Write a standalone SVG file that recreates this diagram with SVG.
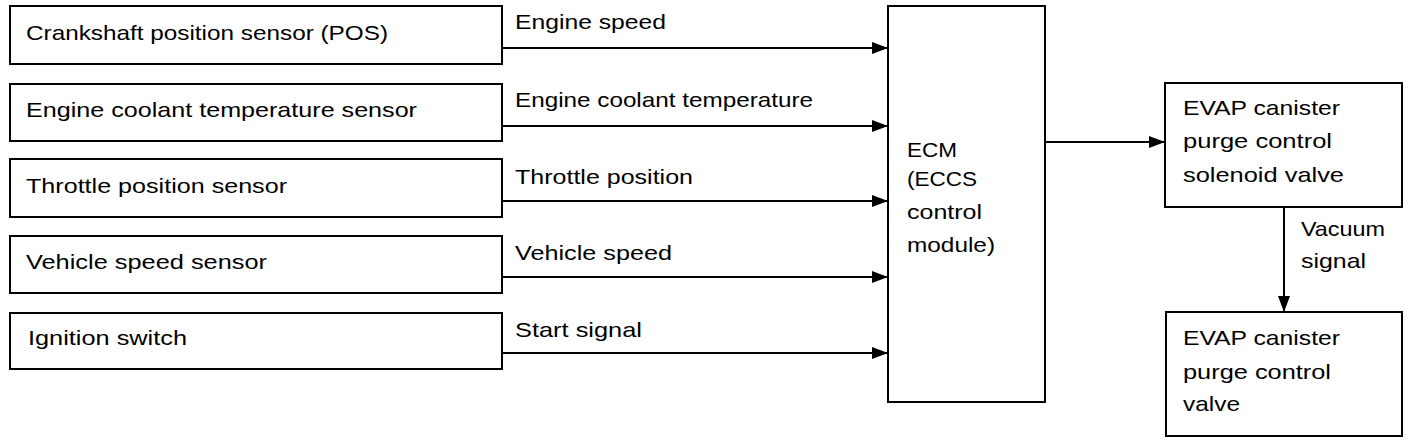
<svg xmlns="http://www.w3.org/2000/svg" width="1424" height="444" viewBox="0 0 1424 444">
<style>
.box{fill:#fff;stroke:#000;stroke-width:2}
.t{font-family:"Liberation Sans",Arial,Helvetica,sans-serif;font-size:21px;fill:#000}
.c{fill:none;stroke:#000;stroke-width:2}
</style>
<defs>
<marker id="ah" markerUnits="userSpaceOnUse" markerWidth="16" markerHeight="12" refX="16" refY="6" orient="auto">
<path d="M0,0 L16,6 L0,12 z" fill="#000"/>
</marker>
</defs>
<rect width="1424" height="444" fill="#fff"/>
<g id="pos">
<rect class="box" x="10" y="6" width="492" height="58"/>
<text class="t" x="26" y="40" textLength="362" lengthAdjust="spacingAndGlyphs">Crankshaft position sensor (POS)</text>
</g>
<g id="ects">
<rect class="box" x="10" y="84" width="492" height="57"/>
<text class="t" x="26" y="117" textLength="391" lengthAdjust="spacingAndGlyphs">Engine coolant temperature sensor</text>
</g>
<g id="tps">
<rect class="box" x="10" y="159" width="492" height="58"/>
<text class="t" x="26" y="193" textLength="261" lengthAdjust="spacingAndGlyphs">Throttle position sensor</text>
</g>
<g id="vss">
<rect class="box" x="10" y="236" width="492" height="57"/>
<text class="t" x="26" y="269" textLength="241" lengthAdjust="spacingAndGlyphs">Vehicle speed sensor</text>
</g>
<g id="ign">
<rect class="box" x="10" y="313" width="492" height="56"/>
<text class="t" x="28" y="345" textLength="159" lengthAdjust="spacingAndGlyphs">Ignition switch</text>
</g>
<g id="ecm">
<rect class="box" x="888" y="6" width="157" height="396"/>
<text class="t" x="907" y="157" textLength="50" lengthAdjust="spacingAndGlyphs">ECM</text>
<text class="t" x="907" y="186" textLength="70" lengthAdjust="spacingAndGlyphs">(ECCS</text>
<text class="t" x="907" y="219" textLength="75" lengthAdjust="spacingAndGlyphs">control</text>
<text class="t" x="907" y="252" textLength="88" lengthAdjust="spacingAndGlyphs">module)</text>
</g>
<g id="solenoid">
<rect class="box" x="1165" y="83" width="237" height="124"/>
<text class="t" x="1183" y="115" textLength="157" lengthAdjust="spacingAndGlyphs">EVAP canister</text>
<text class="t" x="1183" y="148" textLength="149" lengthAdjust="spacingAndGlyphs">purge control</text>
<text class="t" x="1183" y="182" textLength="161" lengthAdjust="spacingAndGlyphs">solenoid valve</text>
</g>
<g id="valve">
<rect class="box" x="1166" y="312" width="236" height="124"/>
<text class="t" x="1183" y="345" textLength="157" lengthAdjust="spacingAndGlyphs">EVAP canister</text>
<text class="t" x="1183" y="379" textLength="148" lengthAdjust="spacingAndGlyphs">purge control</text>
<text class="t" x="1183" y="411" textLength="57" lengthAdjust="spacingAndGlyphs">valve</text>
</g>
<g id="connectors">
<line class="c" x1="502" y1="48" x2="888" y2="48" marker-end="url(#ah)"/>
<line class="c" x1="502" y1="126" x2="888" y2="126" marker-end="url(#ah)"/>
<line class="c" x1="502" y1="201" x2="888" y2="201" marker-end="url(#ah)"/>
<line class="c" x1="502" y1="277" x2="888" y2="277" marker-end="url(#ah)"/>
<line class="c" x1="502" y1="353" x2="888" y2="353" marker-end="url(#ah)"/>
<line class="c" x1="1045" y1="142" x2="1165" y2="142" marker-end="url(#ah)"/>
<line class="c" x1="1284" y1="207" x2="1284" y2="312" marker-end="url(#ah)"/>
<text class="t" x="515" y="29" textLength="151" lengthAdjust="spacingAndGlyphs">Engine speed</text>
<text class="t" x="515" y="107" textLength="298" lengthAdjust="spacingAndGlyphs">Engine coolant temperature</text>
<text class="t" x="515" y="184" textLength="178" lengthAdjust="spacingAndGlyphs">Throttle position</text>
<text class="t" x="515" y="260" textLength="157" lengthAdjust="spacingAndGlyphs">Vehicle speed</text>
<text class="t" x="515" y="337" textLength="127" lengthAdjust="spacingAndGlyphs">Start signal</text>
<text class="t" x="1301" y="236" textLength="84" lengthAdjust="spacingAndGlyphs">Vacuum</text>
<text class="t" x="1301" y="268" textLength="65" lengthAdjust="spacingAndGlyphs">signal</text>
</g>
</svg>
